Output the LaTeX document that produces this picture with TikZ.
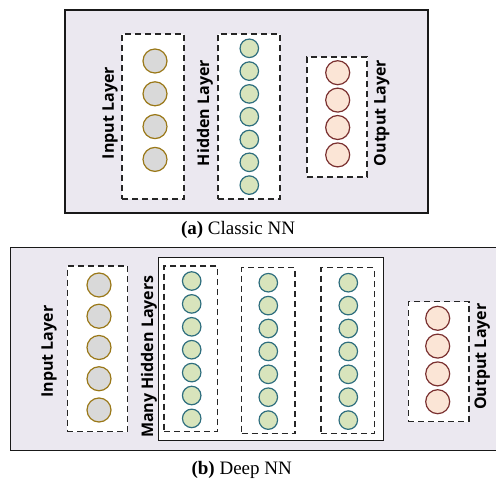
\documentclass[tikz,border=0pt]{standalone}
\usepackage{fontspec}
\setmainfont{Liberation Serif}
\newfontfamily\labfont{Open Sans}
\definecolor{bgpanel}{HTML}{EBE8F0}
\definecolor{inF}{HTML}{D9D9D9}
\definecolor{inC}{HTML}{9A7818}
\definecolor{hiF}{HTML}{D8E4BC}
\definecolor{hiC}{HTML}{2E6E7E}
\definecolor{ouF}{HTML}{FBE5D6}
\definecolor{ouC}{HTML}{7A3030}
\begin{document}
\begin{tikzpicture}[x=1pt,y=-1pt,
  panel/.style={draw=black!90, line width=1.1pt, fill=bgpanel, inner sep=0, outer sep=0},
  innerpanel/.style={draw=black!90, line width=1.1pt, fill=white, inner sep=0, outer sep=0},
  layerbox/.style={draw=black!85, line width=1.3pt, dash pattern=on 6pt off 4pt, fill=white, inner sep=0, outer sep=0},
  incirc/.style={circle, draw=inC, fill=inF, line width=1.2pt, minimum size=24pt, inner sep=0},
  hicirc/.style={circle, draw=hiC, fill=hiF, line width=1.2pt, minimum size=18.5pt, inner sep=0},
  oucirc/.style={circle, draw=ouC, fill=ouF, line width=1.2pt, minimum size=24pt, inner sep=0},
  lab/.style={rotate=90, font=\labfont\bfseries\fontsize{16}{19}\selectfont, inner sep=0},
  captext/.style={font=\fontsize{19}{22}\selectfont, inner sep=0}
]
\useasboundingbox (0,0) rectangle (496,482);

% ---------- (a) Classic NN ----------
\node[panel, minimum width=363pt, minimum height=203pt] (panelA) at (246.5,111.5) {};
\node[layerbox, minimum width=62pt, minimum height=165pt] (inA) at (153,116.5) {};
\node[layerbox, minimum width=62pt, minimum height=165pt] (hiA) at (249,116.5) {};
\node[layerbox, minimum width=60pt, minimum height=120pt] (ouA) at (337,117) {};
\foreach \k in {0,...,3} \node[incirc] (a-in-\k) at (155,61+32.8*\k) {};
\foreach \k in {0,...,6} \node[hicirc] (a-hi-\k) at (249.3,48.3+22.8*\k) {};
\foreach \k in {0,...,3} \node[oucirc] (a-ou-\k) at (337.7,72.7+27.4*\k) {};
\node[lab] (labInA) at (110,113) {Input Layer};
\node[lab] (labHiA) at (205,113) {Hidden Layer};
\node[lab] (labOuA) at (381.7,113) {Output Layer};
\node[captext] (capA) at (238,230) {\textbf{(a)} Classic NN};

% ---------- (b) Deep NN ----------
\node[panel, minimum width=490pt, minimum height=203.4pt] (panelB) at (255.7,349) {};
\node[innerpanel, minimum width=225pt, minimum height=183pt] (manyB) at (270.8,349.2) {};
\node[layerbox, minimum width=60.4pt, minimum height=165.7pt] (inB) at (97.5,348.85) {};
\node[layerbox, minimum width=53.3pt, minimum height=165.7pt] (hiB1) at (190.65,348.85) {};
\node[layerbox, minimum width=53.3pt, minimum height=165.6pt] (hiB2) at (268.35,350.5) {};
\node[layerbox, minimum width=53.3pt, minimum height=165.6pt] (hiB3) at (347.65,350.5) {};
\node[layerbox, minimum width=60.7pt, minimum height=120pt] (ouB) at (438.65,361.7) {};
\foreach \k in {0,...,4} \node[incirc] (b-in-\k) at (99,285+31.25*\k) {};
\foreach \k in {0,...,6} \node[hicirc] (b-hiA-\k) at (191.7,281+22.9*\k) {};
\foreach \k in {0,...,6} \node[hicirc] (b-hiB-\k) at (268.3,282.7+22.9*\k) {};
\foreach \k in {0,...,6} \node[hicirc] (b-hiC-\k) at (348.3,282.7+22.9*\k) {};
\foreach \k in {0,...,3} \node[oucirc] (b-ou-\k) at (437.7,318.3+27.8*\k) {};
\node[lab] (labInB) at (49,351.7) {Input Layer};
\node[lab] (labHiB) at (149,356.7) {Many Hidden Layers};
\node[lab] (labOuB) at (482.3,356.7) {Output Layer};
\node[captext] (capB) at (241.7,470) {\textbf{(b)} Deep NN};
\end{tikzpicture}
\end{document}
